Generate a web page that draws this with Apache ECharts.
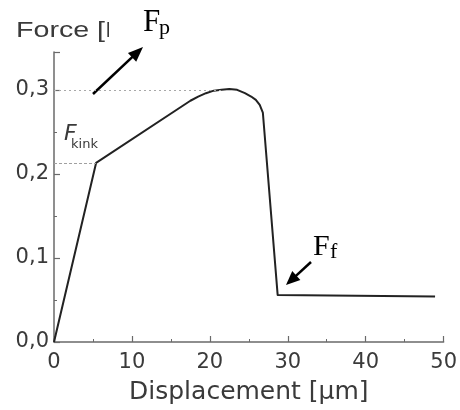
<!DOCTYPE html>
<html><head><meta charset="utf-8">
<script src="https://cdn.jsdelivr.net/npm/echarts@6/dist/echarts.min.js"></script>
<style>html,body{margin:0;padding:0;background:#fff}#c{width:460px;height:410px}</style>
</head><body><div id="c"></div>
<script>
// Data
const dispX = [0, 5.4, 17.5, 18.5, 19.5, 20.5, 21.5, 22.5, 23.5, 24.5, 25.3, 25.9, 26.4, 26.8, 28.7, 48.9];
const forceY = [0, 0.213, 0.287, 0.292, 0.296, 0.299, 0.300, 0.301, 0.300, 0.296, 0.292, 0.288, 0.282, 0.273, 0.056, 0.054];
const peakForce = 0.300, peakX = 21.5;
const kinkForce = 0.213, kinkX = 5.4;
const xTicks = [0, 10, 20, 30, 40, 50];
const yTicks = [0.0, 0.1, 0.2, 0.3];
const xTitle = 'Displacement [µm]';
const yTitle = 'Force [N]';

const chart = echarts.init(document.getElementById('c'), null, {renderer: 'canvas'});
const textCol = '#3a3a3a';
const axisCol = '#6a6a6a';

function arrow(x1, y1, x2, y2, len, wid) {
  const dx = x2 - x1, dy = y2 - y1, L = Math.hypot(dx, dy);
  const ux = dx / L, uy = dy / L, px = -uy, py = ux;
  const bx = x2 - ux * len, by = y2 - uy * len;
  return [
    {type: 'line', shape: {x1: x1, y1: y1, x2: bx + ux * 2, y2: by + uy * 2}, style: {stroke: '#000', lineWidth: 2.5}},
    {type: 'polygon', shape: {points: [[x2, y2], [bx + px * wid / 2, by + py * wid / 2], [bx - px * wid / 2, by - py * wid / 2]]}, style: {fill: '#000'}}
  ];
}

const option = {
  animation: false,
  grid: {left: 54, right: 14.5, top: 52, bottom: 66},
  xAxis: {
    type: 'value', min: 0, max: 50, interval: 10,
    name: xTitle, nameLocation: 'middle', nameGap: 38,
    nameTextStyle: {fontFamily: 'DejaVu Sans', fontSize: 25, color: textCol},
    axisLine: {show: true, lineStyle: {color: axisCol, width: 1.5}},
    axisTick: {show: true, inside: true, length: 6, lineStyle: {color: axisCol, width: 1.2}},
    minorTick: {show: true, splitNumber: 2, length: 3, lineStyle: {color: axisCol, width: 1}},
    axisLabel: {fontFamily: 'DejaVu Sans', fontSize: 21, color: textCol, margin: 10,
      formatter: v => xTicks.includes(v) ? String(v) : ''},
    splitLine: {show: false}
  },
  yAxis: {
    type: 'value', min: 0, max: 0.345, interval: 0.1,
    axisLine: {show: true, lineStyle: {color: axisCol, width: 1.5}},
    axisTick: {show: true, inside: true, length: 6, lineStyle: {color: axisCol, width: 1.2}},
    minorTick: {show: true, splitNumber: 2, length: 3, lineStyle: {color: axisCol, width: 1}},
    axisLabel: {fontFamily: 'DejaVu Sans', fontSize: 21, color: textCol, margin: 5, showMaxLabel: false,
      formatter: v => {
        const t = yTicks.find(k => Math.abs(k - v) < 1e-6);
        return t === undefined ? '' : t.toFixed(1).replace('.', ',');
      }},
    splitLine: {show: false}
  },
  series: [{
    type: 'line',
    data: dispX.map((x, i) => [x, forceY[i]]),
    showSymbol: false, symbol: 'none',
    lineStyle: {color: '#222', width: 2, join: 'round'},
    silent: true,
    markLine: {
      silent: true, symbol: 'none', label: {show: false},
      data: [
        [{coord: [0, peakForce], lineStyle: {type: [2, 3], color: '#a8a8a8', width: 1.2}}, {coord: [peakX, peakForce]}],
        [{coord: [0, kinkForce], lineStyle: {type: [3, 2], color: '#a0a0a0', width: 1}}, {coord: [kinkX, kinkForce]}]
      ]
    }
  }],
  graphic: [
    {type: 'text', left: 16, top: 20, scaleX: 1.3, style: {text: yTitle, font: '22px "Liberation Sans"', fill: textCol}},
    {type: 'rect', shape: {x: 109, y: 0, width: 68, height: 46}, style: {fill: '#fff'}},
    {type: 'text', x: 143, y: 23, style: {text: 'F', font: '31px "Liberation Serif"', fill: '#000', verticalAlign: 'middle'}},
    {type: 'text', x: 159, y: 28, style: {text: 'p', font: '22px "Liberation Serif"', fill: '#000', verticalAlign: 'middle'}},
    ...arrow(93, 94, 143, 47, 15, 12),
    {type: 'text', x: 313, y: 247, style: {text: 'F', font: '30px "Liberation Serif"', fill: '#000', verticalAlign: 'middle'}},
    {type: 'text', x: 330, y: 252, style: {text: 'f', font: '22px "Liberation Serif"', fill: '#000', verticalAlign: 'middle'}},
    ...arrow(311, 262, 286, 285, 14, 12),
    {type: 'text', x: 64, y: 134, style: {text: 'F', font: 'italic 22px "DejaVu Sans"', fill: textCol, verticalAlign: 'middle'}},
    {type: 'text', x: 71, y: 145, style: {text: 'kink', font: '13px "DejaVu Sans"', fill: textCol, verticalAlign: 'middle'}}
  ]
};
chart.setOption(option);
</script></body></html>
